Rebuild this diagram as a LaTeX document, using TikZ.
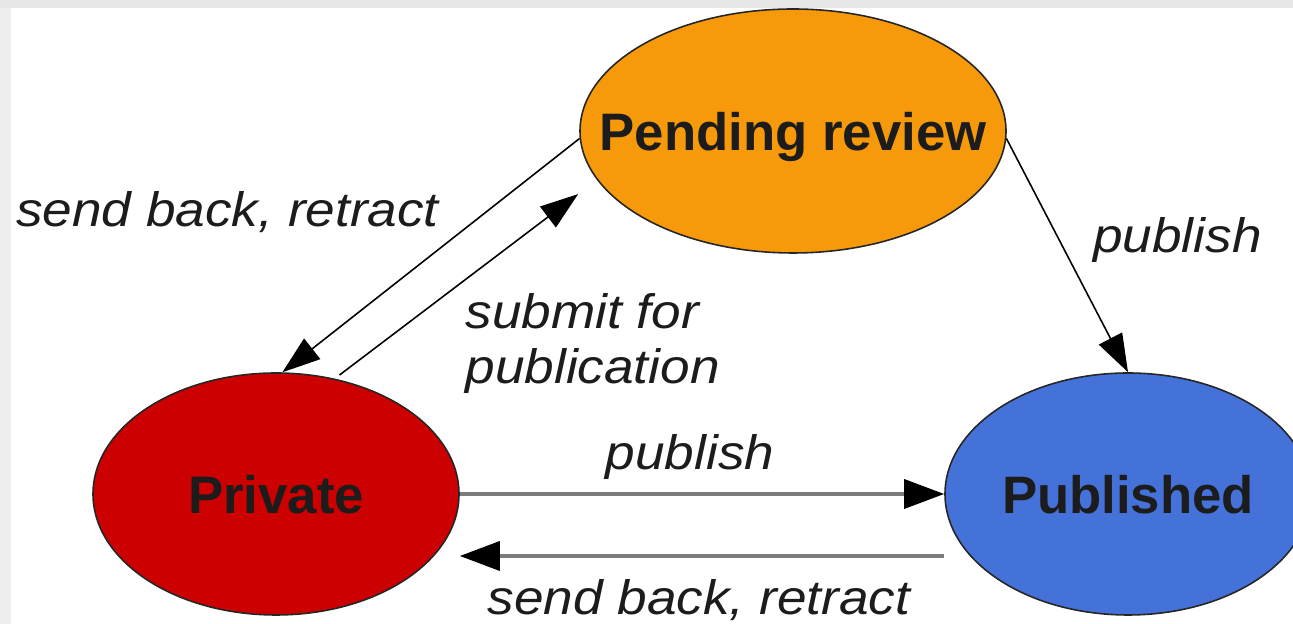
\documentclass[tikz,border=0pt]{standalone}
\usepackage{fontspec}
\setmainfont{Liberation Sans}
\newfontfamily\lblfont[FakeStretch=1.1]{Liberation Sans}
\usetikzlibrary{shapes.geometric,arrows.meta}
\definecolor{pendc}{HTML}{F6990B}
\definecolor{privc}{HTML}{CC0000}
\definecolor{pubc}{HTML}{4472D9}
\definecolor{inkc}{HTML}{1C1C1C}
\definecolor{linec}{HTML}{7C7C7C}
\definecolor{topc}{HTML}{E6E6E6}
\definecolor{sidec}{HTML}{EEEEEE}
\begin{document}
\begin{tikzpicture}[
  state/.style={ellipse, draw=black!85, line width=0.9pt, text=inkc, text depth=0pt, inner sep=0pt,
    font=\bfseries\fontsize{30}{36}\selectfont, minimum width=7.32cm, minimum height=4.84cm},
  lbl/.style={inner sep=0pt, text=inkc, font=\lblfont\itshape\fontsize{27.5}{31.2}\selectfont},
  diag/.style={line width=0.9pt, -{Triangle[length=0.76cm,width=0.52cm]}},
  flat/.style={line width=2pt, draw=linec, -{Triangle[length=0.8cm,width=0.58cm,color=black]}}]
\useasboundingbox (0,0) rectangle (25.86,12.48);
\clip (0,0) rectangle (25.86,12.48);
\fill[topc] (0,12.32) rectangle (25.86,12.48);
\fill[sidec] (0,0) rectangle (0.22,12.32);
\node[state, fill=pendc, minimum width=8.52cm, minimum height=4.88cm] (pend) at (15.86,9.86) {\makebox[0pt]{Pending review}};
\node[state, fill=privc] (priv) at (5.52,2.60) {\makebox[0pt]{Private}};
\node[state, fill=pubc] (pub) at (22.56,2.60) {\makebox[0pt]{Published}};
\draw[diag] (pend.182) -- node[lbl, pos=0.377, anchor=base east, xshift=-0.56cm] {send back, retract} (priv.87);
\draw[diag, shorten <=0.12cm, shorten >=0.47cm] (priv.63) -- node[lbl, pos=0.45, anchor=north west, align=left, xshift=0.24cm, yshift=-0.07cm] {submit for\\publication} (pend.194);
\draw[diag] (pend.-2) -- node[lbl, pos=0.49, anchor=base west, xshift=0.53cm] {publish} (pub.north);
\draw[flat] (priv.east) -- node[lbl, midway, anchor=base, xshift=-0.24cm, yshift=0.48cm] {publish} (pub.west);
\draw[flat] ([yshift=-1.24cm]pub.west) -- node[lbl, midway, anchor=base, xshift=-0.06cm, yshift=-1.18cm] {send back, retract} ([yshift=-1.24cm]priv.east);
\end{tikzpicture}
\end{document}
